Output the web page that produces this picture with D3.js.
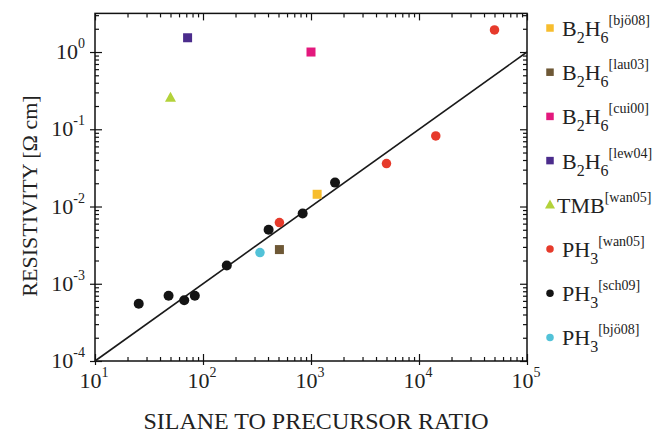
<!DOCTYPE html>
<html>
<head>
<meta charset="utf-8">
<script src="https://d3js.org/d3.v7.min.js"></script>
<style>
  body { margin: 0; background: #fff; }
  svg text { font-family: "Liberation Serif", "Times New Roman", serif; fill: #222; }
  .frame { fill: none; stroke: #111; stroke-width: 1.5; }
  .axis path { display: none; }
  .axis line { stroke: #111; stroke-width: 1.2; }
</style>
</head>
<body>
<svg id="chart" width="655" height="435"></svg>
<script>
// data
var b2h6Bjo08 = [[1140, 0.0144]];
var b2h6Lau03 = [[510, 0.00277]];
var b2h6Cui00 = [[1000, 1.0]];
var b2h6Lew04 = [[72, 1.53]];
var tmbWan05 = [[50, 0.256]];
var ph3Wan05 = [[510, 0.0062], [5000, 0.036], [14300, 0.082], [50000, 1.93]];
var ph3Sch09 = [[25.4, 0.00055], [48, 0.0007], [67, 0.00061], [84, 0.0007],
                [166, 0.00172], [405, 0.005], [837, 0.0081], [1670, 0.0204]];
var ph3Bjo08 = [[337, 0.00253]];

var trendX = [10, 1e5];
var trendY = [1e-4, 1];

var legendMain = ["B2H6", "B2H6", "B2H6", "B2H6", "TMB", "PH3", "PH3", "PH3"];
var legendRefs = ["bjö08", "lau03", "cui00", "lew04", "wan05", "wan05", "sch09", "bjö08"];
var colors = ["#f7bd2e", "#6e5836", "#e3187d", "#4b2c8c", "#b3d23a", "#e63a2b", "#141414", "#52c2d8"];
var shapes = ["square", "square", "square", "square", "triangle", "circle", "circle", "circle"];
var allSeries = [b2h6Bjo08, b2h6Lau03, b2h6Cui00, b2h6Lew04, tmbWan05, ph3Wan05, ph3Sch09, ph3Bjo08];

var xExps = [1, 2, 3, 4, 5];
var yExps = [0, -1, -2, -3, -4];

var svg = d3.select("#chart");
var pLeft = 95, pRight = 527, pTop = 13.4, pBottom = 361;

var x = d3.scaleLog().domain([10, 1e5]).range([pLeft, pRight]);
var y = d3.scaleLog().domain([1e-4, Math.pow(10, 0.5)]).range([pBottom, pTop]);

// minor ticks
var minorX = [], minorY = [];
for (var e = 1; e < 5; e++) for (var m = 2; m < 10; m++) minorX.push(m * Math.pow(10, e));
for (var e = -4; e <= 0; e++) for (var m = 2; m < 10; m++) {
  var v = m * Math.pow(10, e);
  if (v <= Math.pow(10, 0.5)) minorY.push(v);
}
var majorX = xExps.map(function(d){ return Math.pow(10, d); });
var majorY = yExps.map(function(d){ return Math.pow(10, d); });

function addAxis(gen, tr, vals, size) {
  svg.append("g").attr("class", "axis").attr("transform", tr)
    .call(gen.tickValues(vals).tickSize(size).tickFormat(""));
}
// inward ticks on all four sides
addAxis(d3.axisBottom(x), "translate(0," + pBottom + ")", minorX, -4);
addAxis(d3.axisBottom(x), "translate(0," + pBottom + ")", majorX, -7);
addAxis(d3.axisBottom(x), "translate(0," + pBottom + ")", majorX, 4);
addAxis(d3.axisTop(x), "translate(0," + pTop + ")", minorX, -4);
addAxis(d3.axisTop(x), "translate(0," + pTop + ")", majorX, -7);
addAxis(d3.axisLeft(y), "translate(" + pLeft + ",0)", minorY, -4);
addAxis(d3.axisLeft(y), "translate(" + pLeft + ",0)", majorY, -7);
addAxis(d3.axisLeft(y), "translate(" + pLeft + ",0)", majorY, 5);
addAxis(d3.axisRight(y), "translate(" + pRight + ",0)", minorY, -4);
addAxis(d3.axisRight(y), "translate(" + pRight + ",0)", majorY, -7);

svg.append("rect").attr("class", "frame")
  .attr("x", pLeft).attr("y", pTop).attr("width", pRight - pLeft).attr("height", pBottom - pTop);

// tick labels with superscripts
xExps.forEach(function(d) {
  var t = svg.append("text").attr("x", x(Math.pow(10, d)) - 1).attr("y", 388)
    .attr("text-anchor", "middle").style("font-size", "22px");
  t.append("tspan").text("10");
  t.append("tspan").attr("dy", -11).style("font-size", "14px").text(d);
});
yExps.forEach(function(d) {
  var t = svg.append("text").attr("x", 85).attr("y", y(Math.pow(10, d)) + 7)
    .attr("text-anchor", "end").style("font-size", "22px");
  t.append("tspan").text("10");
  t.append("tspan").attr("dy", -11).style("font-size", "14px").text(d);
});

// axis titles
svg.append("text").attr("x", 316).attr("y", 429)
  .attr("text-anchor", "middle").style("font-size", "24px")
  .text("SILANE TO PRECURSOR RATIO");
svg.append("text").attr("transform", "translate(37," + 196 + ") rotate(-90)")
  .attr("text-anchor", "middle").style("font-size", "22px")
  .text("RESISTIVITY [\u03A9 cm]");

// trend line
var line = d3.line().x(function(d){ return x(d[0]); }).y(function(d){ return y(d[1]); });
svg.append("path").datum(d3.zip(trendX, trendY)).attr("d", line)
  .attr("fill", "none").attr("stroke", "#1a1a1a").attr("stroke-width", 1.6);

function marker(sel, shape, color, s) {
  if (shape === "square") {
    sel.append("rect").attr("x", -s / 2).attr("y", -s / 2).attr("width", s).attr("height", s).attr("fill", color);
  } else if (shape === "triangle") {
    var h = s * 0.9;
    sel.append("path").attr("d", "M0," + (-h * 0.6) + "L" + (s / 2) + "," + (h * 0.4) + "L" + (-s / 2) + "," + (h * 0.4) + "Z").attr("fill", color);
  } else {
    sel.append("circle").attr("r", s / 2).attr("fill", color);
  }
}

// data points
allSeries.forEach(function(data, i) {
  var size = shapes[i] === "circle" ? (i === 6 ? 10 : 9.5) : (shapes[i] === "triangle" ? 11 : 9);
  data.forEach(function(d) {
    var g = svg.append("g").attr("transform", "translate(" + x(d[0]) + "," + y(d[1]) + ")");
    marker(g, shapes[i], colors[i], size);
  });
});

// legend
legendMain.forEach(function(name, i) {
  var cy = 28 + i * 44.2;
  var g = svg.append("g").attr("transform", "translate(550," + cy + ")");
  marker(g, shapes[i], colors[i], shapes[i] === "triangle" ? 10 : 7.5);
  var t = svg.append("text").attr("x", shapes[i] === "triangle" ? 557 : 562).attr("y", cy + 8)
    .style("font-size", "22px");
  var parts = name.match(/[A-Z]+|\d/g);
  var sub = false;
  parts.forEach(function(p) {
    if (/\d/.test(p)) {
      t.append("tspan").attr("dy", 7).style("font-size", "16px").text(p);
      sub = true;
    } else {
      t.append("tspan").attr("dy", sub ? -7 : 0).text(p);
      sub = false;
    }
  });
  t.append("tspan").attr("dy", sub ? -18 : -11).style("font-size", "14px").text("[" + legendRefs[i] + "]");
});
</script>
</body>
</html>
